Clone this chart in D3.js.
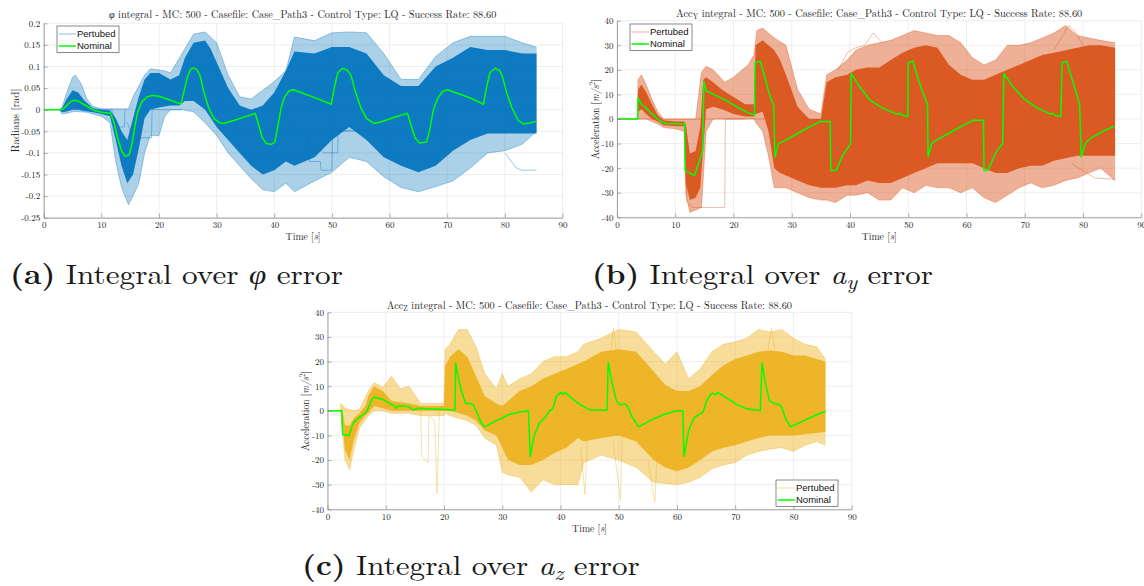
<!DOCTYPE html>
<html>
<head>
<meta charset="utf-8">
<script src="https://cdn.jsdelivr.net/npm/d3@7"></script>
<style>
  body { margin: 0; background: #fff; }
  svg { display: block; }
  text, tspan { font-family: "Latin Modern Roman", "Liberation Serif", serif; }
  .sans, .sans tspan { font-family: "Liberation Sans", Arial, Helvetica, sans-serif; }
</style>
</head>
<body>
<svg id="fig" width="1144" height="586"></svg>
<script>
// ---------- axis ticks ----------
const timeTicks = [0, 10, 20, 30, 40, 50, 60, 70, 80, 90];
const phiTicks = [-0.25, -0.2, -0.15, -0.1, -0.05, 0, 0.05, 0.1, 0.15, 0.2];
const phiTickLabels = ["-0.25", "-0.2", "-0.15", "-0.1", "-0.05", "0", "0.05", "0.1", "0.15", "0.2"];
const accTicks = [-40, -30, -20, -10, 0, 10, 20, 30, 40];
const accTickLabels = ["-40", "-30", "-20", "-10", "0", "10", "20", "30", "40"];
const legendLabels = ["Pertubed", "Nominal"];

// ---------- roll angle integral (phi) ----------
// nominal run: [time, value]
const phiNominal = [[0,0],[2.7,0],[3.3,0.001],[4,0.01],[4.7,0.019],[5.3,0.022],[6,0.02],[7,0.012],[8,0.004],[9,-0.002],[10,-0.006],[11.6,-0.008],[12.2,-0.03],[12.8,-0.065],[13.5,-0.095],[14.1,-0.108],[14.8,-0.105],[15.3,-0.08],[15.8,-0.04],[16.3,-0.005],[17,0.018],[18,0.03],[18.8,0.033],[20,0.031],[22,0.022],[23.8,0.013],[24.3,0.04],[24.9,0.075],[25.5,0.094],[26,0.097],[26.6,0.092],[27.1,0.08],[27.8,0.04],[28.6,0.005],[29.5,-0.02],[30.5,-0.03],[31.2,-0.032],[33,-0.025],[35,-0.016],[36.7,-0.009],[37.3,-0.035],[37.9,-0.065],[38.6,-0.078],[39.5,-0.08],[40.1,-0.075],[40.6,-0.04],[41.2,0.005],[41.8,0.03],[42.6,0.044],[43.3,0.046],[45,0.038],[47,0.028],[49.9,0.0125],[50.4,0.05],[51,0.085],[51.8,0.096],[52.6,0.092],[53.3,0.08],[54,0.045],[55,0.005],[56,-0.02],[57.3,-0.032],[59,-0.026],[61,-0.017],[63.1,-0.008],[63.7,-0.035],[64.4,-0.065],[65.2,-0.077],[66.4,-0.075],[67,-0.045],[67.6,0],[68.3,0.025],[69.2,0.042],[70,0.046],[72,0.037],[74,0.027],[76.3,0.0125],[76.8,0.05],[77.4,0.085],[78.3,0.096],[79,0.092],[79.5,0.08],[80.3,0.04],[81.2,0.005],[82.3,-0.025],[83.2,-0.033],[84.3,-0.031],[85.4,-0.027]];
// dense part of the Monte Carlo spread: [time, low, high]
const phiCore = [[0,0,0],[2.7,0,0],[3.2,-0.006,0.004],[4,-0.004,0.025],[5,0,0.045],[6,0,0.04],[7,-0.003,0.022],[8.5,-0.006,0.004],[10,-0.01,0],[11.5,-0.015,-0.002],[12.5,-0.07,-0.02],[13.5,-0.13,-0.05],[14.5,-0.17,-0.07],[15.5,-0.15,-0.02],[16.5,-0.09,0.03],[17.5,-0.02,0.07],[18.5,0,0.085],[20,0.005,0.085],[22,0.01,0.07],[23.5,0.01,0.08],[24.5,0.02,0.12],[26,0.02,0.155],[28,0,0.16],[29,-0.02,0.14],[30,-0.04,0.11],[32,-0.07,0.05],[34,-0.1,0.01],[36,-0.13,0],[38,-0.15,0.01],[40,-0.14,0.04],[42,-0.12,0.09],[43.5,-0.13,0.135],[47,-0.11,0.13],[50,-0.07,0.145],[53,-0.04,0.145],[56,-0.07,0.13],[59,-0.11,0.08],[62,-0.13,0.055],[65,-0.145,0.055],[68,-0.13,0.1],[71,-0.095,0.12],[74,-0.07,0.145],[77,-0.055,0.138],[80,-0.055,0.138],[83,-0.055,0.13],[85.5,-0.055,0.13]];
// full extent of the spread: [time, low, high]
const phiOuter = [[0,0,0],[2.7,0,0],[3.2,-0.01,0.006],[4,-0.008,0.04],[5,-0.005,0.075],[5.5,-0.004,0.08],[6.5,-0.005,0.06],[7.5,-0.006,0.025],[8.5,-0.01,0.008],[10,-0.015,0.002],[11.5,-0.03,0.002],[12.5,-0.12,0.002],[13.5,-0.18,0.002],[14.7,-0.22,0.002],[15.5,-0.2,0.03],[16.5,-0.17,0.055],[17.5,-0.1,0.08],[18.5,-0.06,0.095],[20,-0.06,0.092],[21,-0.015,0.09],[22,0,0.085],[24,0,0.13],[26,-0.005,0.175],[28,-0.03,0.18],[30,-0.06,0.155],[32,-0.1,0.08],[34,-0.13,0.03],[36,-0.16,0.025],[38,-0.185,0.045],[40,-0.19,0.065],[42,-0.17,0.09],[43.5,-0.19,0.168],[47,-0.165,0.16],[50,-0.145,0.178],[53,-0.11,0.18],[56,-0.12,0.178],[59,-0.155,0.13],[62,-0.18,0.07],[65,-0.19,0.07],[68,-0.178,0.123],[71,-0.165,0.155],[74,-0.135,0.17],[77,-0.1,0.17],[80,-0.095,0.17],[83,-0.08,0.155],[85.5,-0.05,0.145]];
// individual runs that leave the bundle
const phiOutliers = [
  [[14.5,-0.03],[15.5,-0.065],[18.7,-0.065],[18.8,0],[23.8,0]],
  [[8.5,0],[11.8,0],[12.2,-0.02],[13,-0.04],[14,-0.04],[14.1,0]],
  [[43,-0.04],[45,-0.06],[46,-0.06],[46.1,-0.12],[48,-0.12],[48.1,-0.14],[50,-0.14],[50.1,-0.05],[56,-0.045]],
  [[47,-0.08],[48.5,-0.1],[51,-0.1],[51.1,-0.05],[55,-0.05]],
  [[80,-0.1],[82,-0.135],[83,-0.14],[85.5,-0.14]]
];

// ---------- lateral acceleration integral (a_y) ----------
const accYNominal = [[0,0],[3.55,0],[3.6,8.6],[4.2,6],[5,4.5],[5.6,3],[6.8,0.3],[7.6,-1.2],[8.5,-1.8],[11.6,-2],[11.7,-21],[12.5,-22],[13.3,-23],[14.7,-13],[14.9,15.2],[15.3,11.5],[17,9.5],[18.9,7.3],[20.5,5],[21.6,3.7],[22.5,2.5],[23.2,2],[23.6,1.5],[23.7,23],[24.6,23.5],[25.5,16],[26.3,9],[26.9,5.7],[27.1,-15.6],[27.7,-10],[28.6,-9],[30.9,-6],[33.2,-3],[34.9,-1],[36.6,-1],[36.7,-21],[37.6,-21],[38.7,-15],[40.1,-10],[40.2,18.5],[41.7,13],[43.4,7.7],[45.7,4.3],[48,2],[48.6,2.2],[49,1.5],[49.9,1],[50,23],[50.8,23.5],[51.6,17],[52.3,12],[53.3,6],[53.4,-15.5],[54,-10],[54.9,-8.5],[57.2,-5.5],[59.5,-2.5],[61.2,-0.5],[62.9,-0.5],[63,-21],[63.6,-21],[65.2,-13],[66.2,-10],[66.4,18.5],[68,13],[69.7,8.5],[72.1,4.5],[74.4,2],[74.8,2.3],[75.2,1.5],[76.2,1],[76.4,23],[77.2,23.5],[78,17],[78.8,11],[79.4,6],[79.7,-15.5],[80.4,-10],[81.2,-8],[83.4,-5],[85.5,-2.8]];
const accYCore = [[0,0,0],[3.55,0,0],[3.6,3,12],[4.2,4,14],[5,2,11],[6,0,6],[7,-1,1.5],[8,-2.5,-0.5],[10,-3,-1],[11.5,-3,-1],[11.8,-26,-2],[12.5,-33,-14],[13.5,-32,-13],[14.3,-28,-3],[14.8,-12,16],[15.3,4,17],[16.5,5,15],[18,4,12],[20,2,9],[22,1,6],[23.5,1,6],[23.8,2,30],[25,3,32],[26,-5,30],[27,-20,28],[28,-22,24],[29,-23,18],[31,-25,5],[33,-27,0],[35,-28,0],[36,-28,15],[37.5,-28,17],[39.5,-27,18],[41,-27,20],[43,-25,21],[45,-26,21],[47,-26,24],[49,-24,27],[51,-22,29],[53,-20,30],[55,-18,29],[57,-18,22],[59,-18,18],[61,-18,16],[63,-20,16],[65,-22,18],[67,-22,20],[69,-20,22],[71,-19,24],[73,-19,26],[75,-17,27],[77,-16,28],[79,-15,29],[81,-15,30],[83,-15,30],[85.5,-15,29]];
const accYOuter = [[0,0,0],[3.55,0,0],[3.6,0,16],[4.2,0,18],[5,0,14],[6,-1,8],[7,-2,3],[8,-3.5,0],[10,-4,0],[11.5,-5,0],[11.8,-30,0],[12.5,-38,0],[13.5,-37,0],[14.5,-36,19],[15.3,-5,21.5],[16.5,0,20],[18.5,0,15],[20,0,17],[21.5,0,20],[22.5,0,22],[23.5,0,26],[24,-2,36],[25,-5,37],[26,-15,35],[27,-28,33],[29,-28,30],[31,-30,12],[33,-32,4],[35,-33,2],[36,-33,18],[37.5,-34,20],[39.5,-31,24],[41,-31,28],[43,-30,30],[45,-33,31],[47,-33,32],[49,-28,34],[51,-30,36],[53,-27,35],[55,-28,34],[57,-28,34],[59,-30,31],[61,-28,25],[63,-32,22],[65,-34,24],[67,-31,30],[69,-28,30],[71,-26,31],[73,-28,33],[75,-27,35],[77,-25,38],[79,-24,34],[81,-22,33],[83,-20,32],[85.5,-25,31]];
const accYOutliers = [
  [[0,0],[85.5,0]],
  [[11.7,-2],[12,-34],[13,-36],[18.5,-36],[18.6,0],[22,0]],
  [[38,20],[39.5,27],[41,29],[42.5,30],[44,35],[45.5,31]],
  [[75,28],[76.5,34],[77.5,38],[78.5,36],[80,30]],
  [[78,-18],[80,-21],[82,-24],[85.5,-24.5]]
];

// ---------- vertical acceleration integral (a_z) ----------
const accZNominal = [[0,0],[2.44,0],[2.6,-9.6],[3.7,-10],[4.4,-5],[5.3,-3],[6.4,-1],[6.8,0],[7.3,3],[7.8,5.2],[8.2,5.5],[9.5,4.6],[10.6,3],[11.5,2],[11.8,1],[12.1,2],[13.2,2],[14.1,1.5],[14.8,0.3],[15.3,1],[18,0.7],[21.9,0.3],[22,19.5],[22.4,14],[23,8],[23.7,3],[24.4,3],[25,2.5],[25.5,0],[26.4,-5],[27,-6.5],[29,-4],[31.2,-1.5],[33,-0.5],[34.5,0],[34.8,-18.6],[35.5,-10],[36.4,-5],[37,-3.5],[37.6,-2],[38.1,0],[38.7,1],[39.3,6],[40.1,7.5],[40.4,6.5],[40.8,7.5],[41.6,5.7],[43.4,2.4],[45.1,0.4],[48,0.2],[48.2,19.7],[48.8,12],[49.6,4],[50.2,2.5],[51.1,2.8],[51.6,1.5],[52.2,-2],[53.4,-6.5],[55.4,-4],[57.7,-1.5],[60,0],[61,0],[61.2,-18.5],[62,-8],[62.8,-3.5],[63.1,-2.5],[64.5,-0.5],[65,3.5],[65.7,6.5],[66.1,7.2],[66.6,6.5],[67,7.5],[68.6,5],[70.3,2.5],[72,0.8],[74.3,0.1],[74.6,19.5],[75.2,11],[75.9,4],[76.6,3],[77.5,2.7],[78.1,1],[78.6,-3],[79.5,-6.5],[81.8,-4],[84.1,-1.5],[85.5,-0.2]];
const accZCore = [[0,0,0],[2.2,0,0],[2.5,-3,1],[3,-16,-6],[3.8,-20,-6],[4.5,-12,-3],[5.5,-5,-1],[6.5,-2,2],[7,-1,6],[8,2,10],[9.5,1,8],[11,0,4],[12.5,0,3.5],[14,0,3],[16,0,2],[20,0,2],[20.2,0,18],[21,0,22],[22.5,-1,25],[24,-2,22],[25.5,-4,14],[27,-8,6],[29,-10,3],[30,-15,2],[31,-20,4],[33,-22,8],[35,-22,10],[37,-20,13],[39,-17,15],[41,-15,17],[43,-11,19],[44,-12.5,20],[47,-11,24],[50,-10,25],[53,-12.5,24],[56,-20,16],[58,-23,10.5],[60,-24.5,8],[62,-23,8],[64,-20,10],[66,-16.5,14.5],[68,-15,18.5],[70,-14,21],[72,-12.5,22.5],[74,-11,24],[76,-10,24.5],[78,-10,24],[80,-10,22.5],[82,-9.5,22.5],[84,-9,21],[85.5,-8.5,20]];
const accZOuter = [[0,0,0],[2.2,0,0],[2.3,-1,3],[3,-20,1],[3.8,-24,0.5],[4.5,-16,0],[5.5,-7,0.5],[7,-2,8],[8,0,11.5],[9.5,0,9.5],[11,-1,14],[12.5,-1,9],[14,-1,10],[16,-2,3],[20,-2,3],[20.2,-1,25],[21,-2,27],[22.5,-3,33],[24,-4,33],[25.5,-6,26],[27,-11,15],[29,-14,9],[30,-25,15],[31,-26,10],[33,-27,13],[35,-33,15],[37,-28,20],[39,-30,22],[41,-30,22],[43,-30,24],[44,-21,27],[47,-18,29.5],[50,-20,33],[53,-23,32],[56,-29,24],[58,-29.5,19],[60,-30,24],[62,-29,13],[64,-27,17],[66,-23.5,24],[68,-22,27],[70,-21,28],[72,-18,29.5],[74,-16.5,33],[76,-15.5,32],[78,-15,33],[80,-16.5,29.5],[82,-14,27],[84,-12.5,26],[85.5,-14,21]];
const accZOutliers = [
  [[16,1],[16.2,-19],[17.3,-21],[17.4,-2],[18.4,-4],[18.8,-33.5],[19.2,0],[20,1]],
  [[43.5,-15],[44.2,-34],[44.6,-12]],
  [[49,-12],[50.3,-36],[50.6,-10]],
  [[55,-20],[56.2,-37],[56.6,-18]],
  [[48.5,22],[49.1,33.5],[49.6,24]],
  [[75.6,24],[76.2,33.5],[76.8,25]]
];

const nominalColor = "#00ff00";
const serif = '"Latin Modern Roman", "Liberation Serif", serif';
const svg = d3.select("#fig");

// Text helper: builds mixed-style text and stretches it to a given width
function placeText(parent, parts, o) {
  const g = parent.append("g")
    .attr("transform", `translate(${o.x},${o.y})` + (o.rotate ? ` rotate(${o.rotate})` : ""));
  const t = g.append("text").attr("font-size", o.size).attr("fill", o.fill || "#1a1a1a")
    .style("font-family", serif);
  parts.forEach(p => {
    const s = t.append("tspan").text(p.t).style("font-family", serif);
    if (p.italic) s.attr("font-style", "italic");
    if (p.bold) s.attr("font-weight", "bold");
    if (p.sub) s.attr("baseline-shift", "-25%").attr("font-size", o.size * 0.72);
    if (p.sup) s.attr("baseline-shift", "45%").attr("font-size", o.size * 0.72);
  });
  const w = t.node().getComputedTextLength();
  const k = o.width ? o.width / w : 1;
  const shift = o.anchor === "middle" ? -(o.width || w) / 2 : 0;
  t.attr("transform", `translate(${shift},0) scale(${k},1)`);
  return g;
}

function drawPanel(p, idx) {
  const g = svg.append("g");
  const x = d3.scaleLinear().domain([0, 90]).range([p.left, p.right]);
  const y = d3.scaleLinear().domain(p.yDomain).range([p.bottom, p.top]);

  // grid
  g.append("g").selectAll("line").data(timeTicks).join("line")
    .attr("x1", d => x(d)).attr("x2", d => x(d))
    .attr("y1", p.top).attr("y2", p.bottom)
    .attr("stroke", "#e6e6e6").attr("stroke-width", 0.7);
  g.append("g").selectAll("line").data(p.yTicks).join("line")
    .attr("x1", p.left).attr("x2", p.right)
    .attr("y1", d => y(d)).attr("y2", d => y(d))
    .attr("stroke", "#e6e6e6").attr("stroke-width", 0.7);

  const clipId = "clip" + idx;
  g.append("clipPath").attr("id", clipId).append("rect")
    .attr("x", p.left).attr("y", p.top)
    .attr("width", p.right - p.left).attr("height", p.bottom - p.top);
  const data = g.append("g").attr("clip-path", `url(#${clipId})`);

  const band = d3.area().x(d => x(d[0])).y0(d => y(d[1])).y1(d => y(d[2]));
  const lowEdge = d3.line().x(d => x(d[0])).y(d => y(d[1]));
  const highEdge = d3.line().x(d => x(d[0])).y(d => y(d[2]));
  const trace = d3.line().x(d => x(d[0])).y(d => y(d[1]));

  // sparse fringe of perturbed runs
  data.append("path").datum(p.outer).attr("d", band)
    .attr("fill", p.color).attr("fill-opacity", p.fringe);
  [lowEdge, highEdge].forEach(fn => data.append("path").datum(p.outer).attr("d", fn)
    .attr("fill", "none").attr("stroke", p.color).attr("stroke-opacity", 0.5).attr("stroke-width", 0.7));
  // individual perturbed runs
  data.append("g").selectAll("path").data(p.outliers).join("path")
    .attr("d", trace).attr("fill", "none")
    .attr("stroke", p.color).attr("stroke-opacity", 0.55).attr("stroke-width", 0.7);
  // dense bundle
  data.append("path").datum(p.core).attr("d", band)
    .attr("fill", p.color).attr("fill-opacity", 0.92);
  // nominal run
  data.append("path").datum(p.nominal).attr("d", trace)
    .attr("fill", "none").attr("stroke", nominalColor).attr("stroke-width", 1.5)
    .attr("stroke-linejoin", "round");

  // axes
  const axisColor = "#8c8c8c";
  const ax = g.append("g").attr("transform", `translate(0,${p.bottom})`)
    .call(d3.axisBottom(x).tickValues(timeTicks).tickFormat(d => String(d))
      .tickSizeInner(-4).tickSizeOuter(0).tickPadding(4));
  const ay = g.append("g").attr("transform", `translate(${p.left},0)`)
    .call(d3.axisLeft(y).tickValues(p.yTicks).tickFormat((d, i) => p.yLabels[i])
      .tickSizeInner(-4).tickSizeOuter(0).tickPadding(3.5));
  [ax, ay].forEach(a => {
    a.attr("font-family", null);
    a.select(".domain").attr("stroke", axisColor).attr("stroke-width", 0.8);
    a.selectAll(".tick line").attr("stroke", axisColor).attr("stroke-width", 0.7);
    a.selectAll(".tick text").style("font-family", serif)
      .attr("font-size", 9).attr("fill", "#262626");
  });

  // title and axis labels
  placeText(g, p.title, { x: p.titleX, y: p.titleY, size: 10.5, width: p.titleW });
  placeText(g, [{ t: "Time " }, { t: "[" }, { t: "s", italic: true }, { t: "]" }],
    { x: (p.left + p.right) / 2, y: p.bottom + 22.5, size: 10.5, width: 35, anchor: "middle" });
  placeText(g, p.ylabel, { x: p.ylabelX, y: (p.top + p.bottom) / 2, size: 10.5,
    width: p.ylabelW, anchor: "middle", rotate: -90 });

  // legend
  const lg = g.append("g").attr("transform", `translate(${p.legend[0]},${p.legend[1]})`);
  lg.append("rect").attr("width", 62).attr("height", 26.5)
    .attr("fill", "#fff").attr("stroke", "#5a5a5a").attr("stroke-width", 0.7);
  legendLabels.forEach((lab, i) => {
    const yy = 8 + i * 12;
    lg.append("line").attr("x1", 1.5).attr("x2", 19).attr("y1", yy).attr("y2", yy)
      .attr("stroke", i === 0 ? p.color : nominalColor)
      .attr("stroke-opacity", i === 0 ? 0.45 : 1)
      .attr("stroke-width", i === 0 ? 1 : 1.5);
    lg.append("text").attr("class", "sans").attr("x", 20).attr("y", yy + 3.4)
      .attr("font-size", 9.5).attr("fill", "#111").text(lab);
  });

  // caption below the panel
  placeText(svg, p.caption, { x: p.capX, y: p.capY, size: 28, width: p.capW });
}

const accLabel = [{ t: "Acceleration [" }, { t: "m/s", italic: true }, { t: "2", sup: true }, { t: "]" }];
const restOfTitle = " integral - MC: 500 - Casefile: Case_Path3 - Control Type: LQ - Success Rate: 88.60";

const panels = [
  {
    left: 43.7, right: 562.5, top: 23.3, bottom: 217.7,
    yDomain: [-0.25, 0.2], yTicks: phiTicks, yLabels: phiTickLabels,
    color: "#0072bd", fringe: 0.33,
    nominal: phiNominal, core: phiCore, outer: phiOuter, outliers: phiOutliers,
    title: [{ t: "φ", italic: true }, { t: restOfTitle }], titleX: 109, titleY: 17.5, titleW: 388,
    ylabel: [{ t: "Radians [rad]" }], ylabelX: 18.5, ylabelW: 64,
    legend: [57, 26],
    caption: [{ t: "(a)", bold: true }, { t: " Integral over " }, { t: "φ", italic: true }, { t: " error" }],
    capX: 10, capY: 284, capW: 333
  },
  {
    left: 617, right: 1141.3, top: 20.7, bottom: 217.3,
    yDomain: [-40, 40], yTicks: accTicks, yLabels: accTickLabels,
    color: "#d95319", fringe: 0.45,
    nominal: accYNominal, core: accYCore, outer: accYOuter, outliers: accYOutliers,
    title: [{ t: "Acc" }, { t: "Y", sub: true }, { t: restOfTitle }], titleX: 676, titleY: 16.5, titleW: 407,
    ylabel: accLabel, ylabelX: 598.5, ylabelW: 80,
    legend: [630, 24],
    caption: [{ t: "(b)", bold: true }, { t: " Integral over " }, { t: "a", italic: true }, { t: "y", italic: true, sub: true }, { t: " error" }],
    capX: 592, capY: 284, capW: 341
  },
  {
    left: 327.5, right: 851.7, top: 312.3, bottom: 509.3,
    yDomain: [-40, 40], yTicks: accTicks, yLabels: accTickLabels,
    color: "#edb120", fringe: 0.45,
    nominal: accZNominal, core: accZCore, outer: accZOuter, outliers: accZOutliers,
    title: [{ t: "Acc" }, { t: "Z", sub: true }, { t: restOfTitle }], titleX: 386.7, titleY: 308.5, titleW: 406,
    ylabel: accLabel, ylabelX: 308.5, ylabelW: 80,
    legend: [776, 480],
    caption: [{ t: "(c)", bold: true }, { t: " Integral over " }, { t: "a", italic: true }, { t: "z", italic: true, sub: true }, { t: " error" }],
    capX: 302, capY: 575, capW: 338
  }
];

panels.forEach((p, i) => drawPanel(p, i));
</script>
</body>
</html>
